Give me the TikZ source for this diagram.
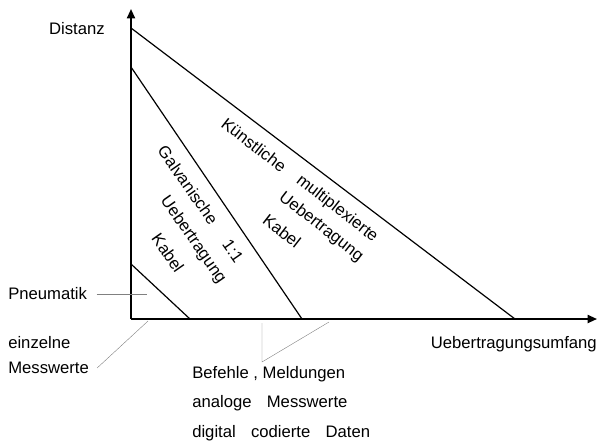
\documentclass[tikz,border=0pt]{standalone}
\usepackage{fontspec}
\setmainfont{Liberation Sans}
\usetikzlibrary{arrows.meta}
\tikzset{
  axis/.style={line width=1.4pt,-{Triangle[length=7pt,width=6pt]}},
  limit/.style={line width=0.9pt},
  leader/.style={line width=0.3pt,gray},
  lbl/.style={inner sep=0pt,font=\fontsize{12.5}{22}\selectfont},
  steep/.style={lbl,rotate=-55},
  shallow/.style={lbl,rotate=-38}
}
\begin{document}
\begin{tikzpicture}[x=0.75pt,y=-0.75pt]
\useasboundingbox (0,0) rectangle (600,444);
% axes
\coordinate (O) at (131,319);
\coordinate (ytop) at (131,9);
\coordinate (xend) at (597,319);
\draw[axis] (O) -- (ytop);
\draw[axis] (O) -- (xend);
\node[lbl,anchor=east] (dist) at (105,29) {Distanz};
\node[lbl,anchor=east] (umf) at (597,344) {Uebertragungsumfang};
% limits
\coordinate (a1) at (131,264);
\coordinate (a2) at (190,319);
\coordinate (b1) at (131,67);
\coordinate (b2) at (302,319);
\coordinate (c1) at (131,28);
\coordinate (c2) at (515,319);
\draw[limit] (a1) -- (a2);
\draw[limit] (b1) -- (b2);
\draw[limit] (c1) -- (c2);
% regions
\node[steep] (galv) at (188,185) {Galvanische};
\node[steep] (eins) at (233,251) {1:1};
\node[steep] (ueb1) at (193,240) {Uebertragung};
\node[steep] (kab1) at (168,253) {Kabel};
\node[shallow] (kuen) at (254,145) {Künstliche};
\node[shallow] (mult) at (337,209) {multiplexierte};
\node[shallow] (ueb2) at (321,227) {Uebertragung};
\node[shallow] (kab2) at (282,231) {Kabel};
% leaders
\node[lbl,anchor=west] (pneu) at (8,294) {Pneumatik};
\coordinate (pn) at (147,294);
\draw[leader,shorten <=7pt] (pneu.east) -- (pn);
\node[lbl,anchor=west] (einz) at (8,343) {einzelne};
\node[lbl,anchor=west] (messw) at (8,368) {Messwerte};
\coordinate (em) at (148,321);
\draw[leader] ([xshift=6pt]messw.east) -- (em);
\node[lbl,anchor=north west,align=left] (bef) at (192,366)
  {Befehle , Meldungen\\analoge\hspace{8pt} Messwerte\\digital\hspace{8pt} codierte\hspace{8pt} Daten};
\coordinate (bv) at (262,323);
\coordinate (bk) at (262,362);
\coordinate (bd) at (329,322);
\draw[leader] (bv) -- (bk) -- (bd);
\end{tikzpicture}
\end{document}
